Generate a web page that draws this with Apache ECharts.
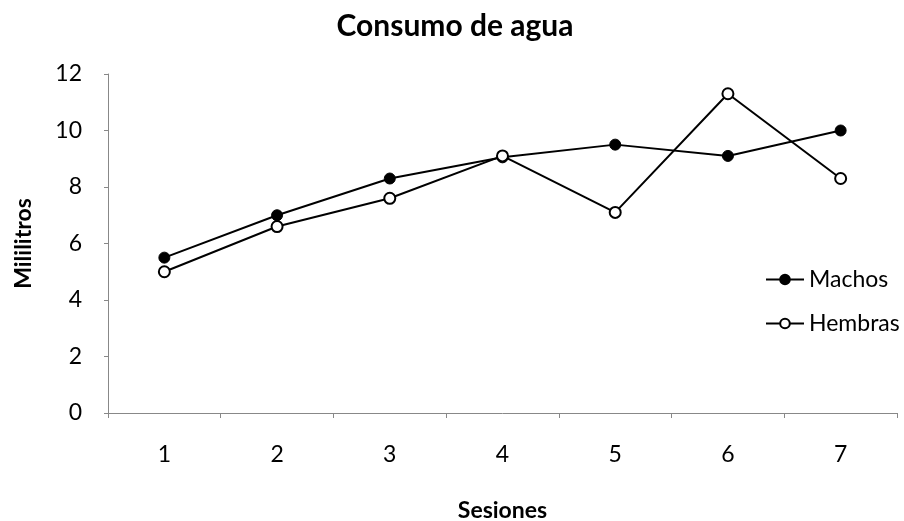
<!DOCTYPE html>
<html>
<head>
<meta charset="utf-8">
<script src="https://cdn.jsdelivr.net/npm/echarts@6/dist/echarts.min.js"></script>
<style>html,body{margin:0;padding:0;background:#fff}#c{width:904px;height:521px}</style>
</head>
<body>
<div id="c"></div>
<script>
const categories = ['1','2','3','4','5','6','7'];
const machos = [5.5, 7.0, 8.3, 9.05, 9.5, 9.1, 10.0];
const hembras = [5.0, 6.6, 7.6, 9.1, 7.1, 11.3, 8.3];
const yTicks = [0, 2, 4, 6, 8, 10, 12];

const font = 'Lato, "Open Sans", sans-serif';
const chart = echarts.init(document.getElementById('c'), null, {renderer: 'canvas'});
chart.setOption({
  animation: false,
  backgroundColor: '#fff',
  title: {
    text: 'Consumo de agua', left: 450, top: 6, textAlign: 'center',
    textStyle: {fontFamily: font, fontWeight: 'bold', fontSize: 30, color: '#000'}
  },
  legend: {
    orient: 'vertical', left: 760, top: 263, itemGap: 21, itemWidth: 38, itemHeight: 12,
    textStyle: {fontFamily: font, fontSize: 23, color: '#000'},
    data: ['Machos', 'Hembras']
  },
  grid: {left: 108, right: 7, top: 74, bottom: 108, outerBoundsMode: 'none', containLabel: false},
  xAxis: {
    type: 'category', data: categories,
    name: 'Sesiones', nameLocation: 'middle', nameGap: 86,
    nameTextStyle: {fontFamily: font, fontWeight: 'bold', fontSize: 23, color: '#000'},
    axisLine: {lineStyle: {color: '#888', width: 1}},
    axisTick: {show: true, length: 5, lineStyle: {color: '#888'}},
    axisLabel: {fontFamily: font, fontSize: 23, color: '#000', margin: 30}
  },
  yAxis: {
    type: 'value', min: yTicks[0], max: yTicks[yTicks.length-1], interval: 2,
    name: 'Mililitros', nameLocation: 'middle', nameGap: 73, nameRotate: 90,
    nameTextStyle: {fontFamily: font, fontWeight: 'bold', fontSize: 23, color: '#000'},
    axisLine: {show: true, lineStyle: {color: '#888', width: 1}},
    axisTick: {show: true, length: 4, lineStyle: {color: '#888'}},
    splitLine: {show: false},
    axisLabel: {fontFamily: font, fontSize: 23, color: '#000', margin: 26}
  },
  series: [
    {name: 'Machos', type: 'line', data: machos, symbol: 'circle', symbolSize: 11,
     lineStyle: {color: '#000', width: 2}, itemStyle: {color: '#000', borderColor: '#000', borderWidth: 1}},
    {name: 'Hembras', type: 'line', data: hembras, symbol: 'circle', symbolSize: 11,
     lineStyle: {color: '#000', width: 2}, itemStyle: {color: '#fff', borderColor: '#000', borderWidth: 2}}
  ]
});
</script>
</body>
</html>
